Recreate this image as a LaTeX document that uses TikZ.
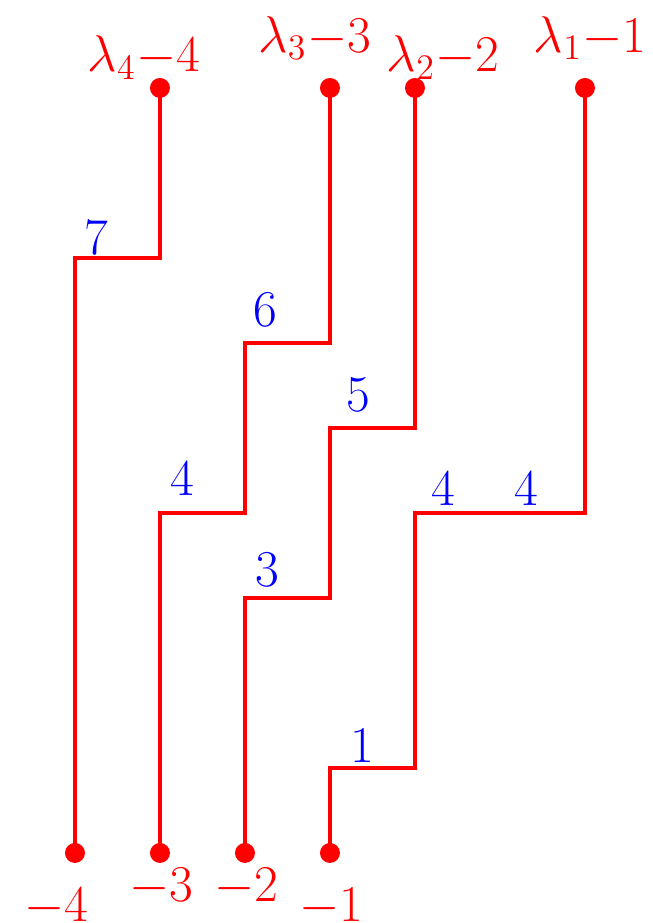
\documentclass[tikz,border=0pt]{standalone}
\usepackage{amsmath,amssymb}
\usepackage{tikz}
\usepackage{xcolor}

\begin{document}
\begin{tikzpicture}[x=1cm,y=1cm,
  dot/.style={circle,fill=red,inner sep=0pt,minimum size=0.235cm},
  lattice/.style={red,line width=1.2pt},
  endlab/.style={anchor=base,text=red,font=\LARGE},
  wt/.style={anchor=base,text=blue,font=\LARGE}]
\useasboundingbox (-0.882,-0.824) rectangle (6.8,10.035);
\node[dot] (b4) at (0,0) {};
\node[dot] (b3) at (1,0) {};
\node[dot] (b2) at (2,0) {};
\node[dot] (b1) at (3,0) {};
\node[dot] (t4) at (1,9) {};
\node[dot] (t3) at (3,9) {};
\node[dot] (t2) at (4,9) {};
\node[dot] (t1) at (6,9) {};
\draw[lattice] (b4.center) |- (1,7) -- (t4.center);
\draw[lattice] (b3.center) |- (2,4) |- (3,6) -- (t3.center);
\draw[lattice] (b2.center) |- (3,3) |- (4,5) -- (t2.center);
\draw[lattice] (b1.center) |- (4,1) |- (6,4) -- (t1.center);
\node[endlab] (l4) at (0.81,9.19) {$\lambda_4{-}4$};
\node[endlab] (l3) at (2.82,9.42) {$\lambda_3{-}3$};
\node[endlab] (l2) at (4.33,9.19) {$\lambda_2{-}2$};
\node[endlab] (l1) at (6.06,9.42) {$\lambda_1{-}1$};
\node[endlab] (m4) at (-0.22,-0.81) {$-4$};
\node[endlab] (m3) at (1.02,-0.576) {$-3$};
\node[endlab] (m2) at (2.02,-0.576) {$-2$};
\node[endlab] (m1) at (3.02,-0.81) {$-1$};
\node[wt] (w7) at (0.25,7.035) {$7$};
\node[wt] (w6) at (2.24,6.19) {$6$};
\node[wt] (w5) at (3.33,5.19) {$5$};
\node[wt] (w4a) at (1.26,4.2) {$4$};
\node[wt] (w3) at (2.26,3.13) {$3$};
\node[wt] (w1) at (3.38,1.07) {$1$};
\node[wt] (w4b) at (4.33,4.09) {$4$};
\node[wt] (w4c) at (5.31,4.09) {$4$};
\end{tikzpicture}
\end{document}
